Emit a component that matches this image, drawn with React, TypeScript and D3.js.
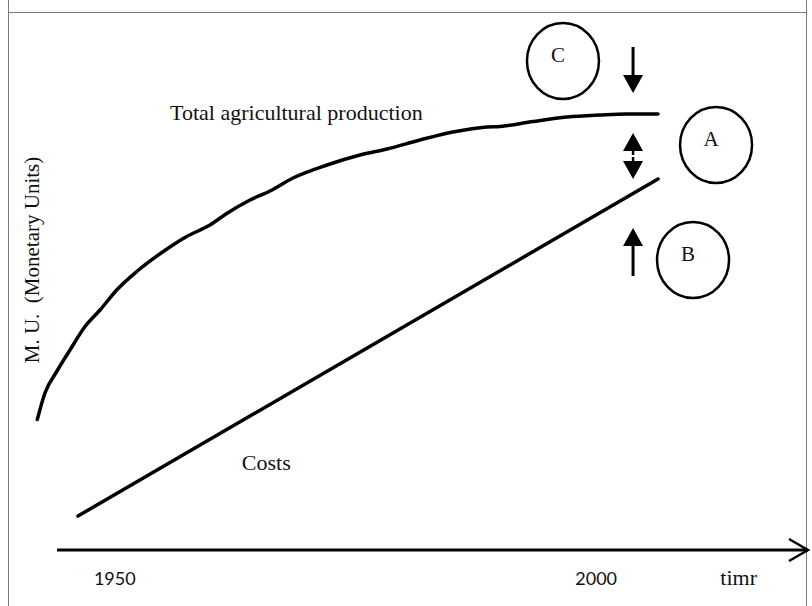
import React, { useRef, useEffect } from "react";
import * as d3 from "d3";

// time axis (years) and monetary units (arbitrary 0-100)
const productionYears = [
  1941.95, 1942.75, 1943.97, 1945.35, 1946.91, 1948.47, 1950.2, 1952.28, 1955.04,
  1957.47, 1959.89, 1961.63, 1964.05, 1966.12, 1968.51, 1972.04, 1975.47, 1978.28,
  1981.7, 1985.13, 1988.66, 1990.0, 1993.44, 1996.97, 2000.4, 2003.2, 2006.42,
];
const productionValues = [
  26.1, 31.4, 35.7, 40.0, 44.7, 48.0, 52.0, 55.7, 59.7,
  62.7, 65.0, 67.3, 70.0, 71.8, 74.4, 77.0, 79.0, 80.2,
  82.0, 83.6, 84.6, 84.7, 85.7, 86.6, 87.0, 87.2, 87.2,
];
const costYears = [1946.18, 2006.42];
const costValues = [6.8, 74.2];

const tickYears = [1950, 2000];
const tickLabels = ["1950", "2000"];
const axisTitleYear = 2014.8;

// annotation circles: letter, year, value
const circleLetters = ["C", "A", "B"];
const circleYears = [1996.55, 2012.45, 2010.06];
const circleValues = [97.8, 81.0, 58.0];

// arrows near the end of the curves
const arrowYear = 2003.83;
const downArrow = { from: 100.6, to: 91.4 };
const gapArrow = { top: 83.4, bottom: 74.2 };
const upArrow = { from: 54.8, to: 64.4 };

const App: React.FC = () => {
  const svgRef = useRef<SVGSVGElement | null>(null);

  useEffect(() => {
    if (!svgRef.current) return;
    const W = 812;
    const H = 606;
    const svg = d3.select(svgRef.current).attr("width", W).attr("height", H);
    svg.selectAll("*").remove();

    const serif = "'Liberation Serif', 'Times New Roman', serif";
    const sans = "Lato, 'Liberation Sans', sans-serif";

    const x = d3.scaleLinear().domain([1944, 2022]).range([57, 808]);
    const y = d3.scaleLinear().domain([0, 100]).range([550, 50]);

    // frame
    svg.append("rect").attr("width", W).attr("height", H).attr("fill", "#fff");
    const frame = svg.append("g").attr("stroke", "#7a7a7a").attr("stroke-width", 1);
    frame.append("line").attr("x1", 8.5).attr("x2", 8.5).attr("y1", 0).attr("y2", H);
    frame.append("line").attr("x1", 806.5).attr("x2", 806.5).attr("y1", 0).attr("y2", H);
    frame.append("line").attr("x1", 8).attr("x2", 807).attr("y1", 12.5).attr("y2", 12.5);

    // x axis with open arrow head
    const y0 = y(0);
    svg
      .append("line")
      .attr("x1", x.range()[0])
      .attr("x2", x.range()[1])
      .attr("y1", y0)
      .attr("y2", y0)
      .attr("stroke", "#000")
      .attr("stroke-width", 3);
    svg
      .append("path")
      .attr("d", `M${x.range()[1] - 19},${y0 - 11}L${x.range()[1]},${y0}L${x.range()[1] - 19},${y0 + 11}`)
      .attr("fill", "none")
      .attr("stroke", "#000")
      .attr("stroke-width", 2.5);

    svg
      .selectAll(".tick-label")
      .data(tickYears)
      .enter()
      .append("text")
      .attr("class", "tick-label")
      .attr("x", (d) => x(d))
      .attr("y", y0 + 35)
      .attr("text-anchor", "middle")
      .attr("font-family", sans)
      .attr("font-size", 18)
      .attr("fill", "#111")
      .text((_, i) => tickLabels[i]);

    svg
      .append("text")
      .attr("x", x(axisTitleYear))
      .attr("y", y0 + 35)
      .attr("text-anchor", "middle")
      .attr("font-family", serif)
      .attr("font-size", 22)
      .attr("fill", "#111")
      .text("timr");

    // y axis title
    svg
      .append("text")
      .attr("transform", `translate(39,${y(58)}) rotate(-90)`)
      .attr("text-anchor", "middle")
      .attr("font-family", serif)
      .attr("font-size", 21)
      .attr("fill", "#111")
      .attr("xml:space", "preserve")
      .text("M. U.  (Monetary Units)");

    // curves
    const line = d3
      .line<[number, number]>()
      .x((d) => x(d[0]))
      .y((d) => y(d[1]))
      .curve(d3.curveMonotoneX);

    svg
      .append("path")
      .datum(productionYears.map((yr, i) => [yr, productionValues[i]] as [number, number]))
      .attr("d", line)
      .attr("fill", "none")
      .attr("stroke", "#000")
      .attr("stroke-width", 3.5)
      .attr("stroke-linecap", "round");

    svg
      .append("path")
      .datum(costYears.map((yr, i) => [yr, costValues[i]] as [number, number]))
      .attr("d", line)
      .attr("fill", "none")
      .attr("stroke", "#000")
      .attr("stroke-width", 3.5)
      .attr("stroke-linecap", "round");

    // curve labels
    svg
      .append("text")
      .attr("x", x(1955.74))
      .attr("y", y(86))
      .attr("font-family", serif)
      .attr("font-size", 22)
      .attr("fill", "#111")
      .text("Total agricultural production");

    svg
      .append("text")
      .attr("x", x(1963.2))
      .attr("y", y(16))
      .attr("font-family", serif)
      .attr("font-size", 22)
      .attr("fill", "#111")
      .text("Costs");

    // circles with letters
    const circles = svg
      .selectAll(".note")
      .data(circleLetters)
      .enter()
      .append("g")
      .attr("class", "note")
      .attr("transform", (_, i) => `translate(${x(circleYears[i])},${y(circleValues[i])})`);
    circles
      .append("ellipse")
      .attr("rx", 36)
      .attr("ry", 38)
      .attr("fill", "none")
      .attr("stroke", "#000")
      .attr("stroke-width", 2.5);
    circles
      .append("text")
      .attr("x", -5)
      .attr("y", 1)
      .attr("text-anchor", "middle")
      .attr("font-family", serif)
      .attr("font-size", 21)
      .attr("fill", "#111")
      .text((d) => d);

    // arrows
    const ax = x(arrowYear);
    const head = (tipY: number, dir: number) =>
      `M${ax},${tipY}L${ax - 10},${tipY - dir * 18}L${ax + 10},${tipY - dir * 18}Z`;
    const arrows = svg.append("g").attr("stroke", "#000").attr("fill", "#000");

    arrows
      .append("line")
      .attr("x1", ax)
      .attr("x2", ax)
      .attr("y1", y(downArrow.from))
      .attr("y2", y(downArrow.to) - 12)
      .attr("stroke-width", 3);
    arrows.append("path").attr("d", head(y(downArrow.to), 1)).attr("stroke", "none");

    const gt = y(gapArrow.top);
    const gb = y(gapArrow.bottom);
    arrows.append("path").attr("d", head(gt, -1)).attr("stroke", "none");
    arrows.append("path").attr("d", head(gb, 1)).attr("stroke", "none");
    arrows
      .append("line")
      .attr("x1", ax)
      .attr("x2", ax)
      .attr("y1", gt + 10)
      .attr("y2", gb - 10)
      .attr("stroke-width", 2.5);
    arrows
      .append("line")
      .attr("x1", ax - 10)
      .attr("x2", ax + 10)
      .attr("y1", (gt + gb) / 2)
      .attr("y2", (gt + gb) / 2)
      .attr("stroke", "#fff")
      .attr("stroke-width", 2);

    arrows
      .append("line")
      .attr("x1", ax)
      .attr("x2", ax)
      .attr("y1", y(upArrow.from))
      .attr("y2", y(upArrow.to) + 12)
      .attr("stroke-width", 3);
    arrows.append("path").attr("d", head(y(upArrow.to), -1)).attr("stroke", "none");
  }, []);

  return (
    <div style={{ position: "absolute", left: 0, top: 0 }}>
      <svg ref={svgRef} style={{ display: "block" }}></svg>
    </div>
  );
};

export default App;
